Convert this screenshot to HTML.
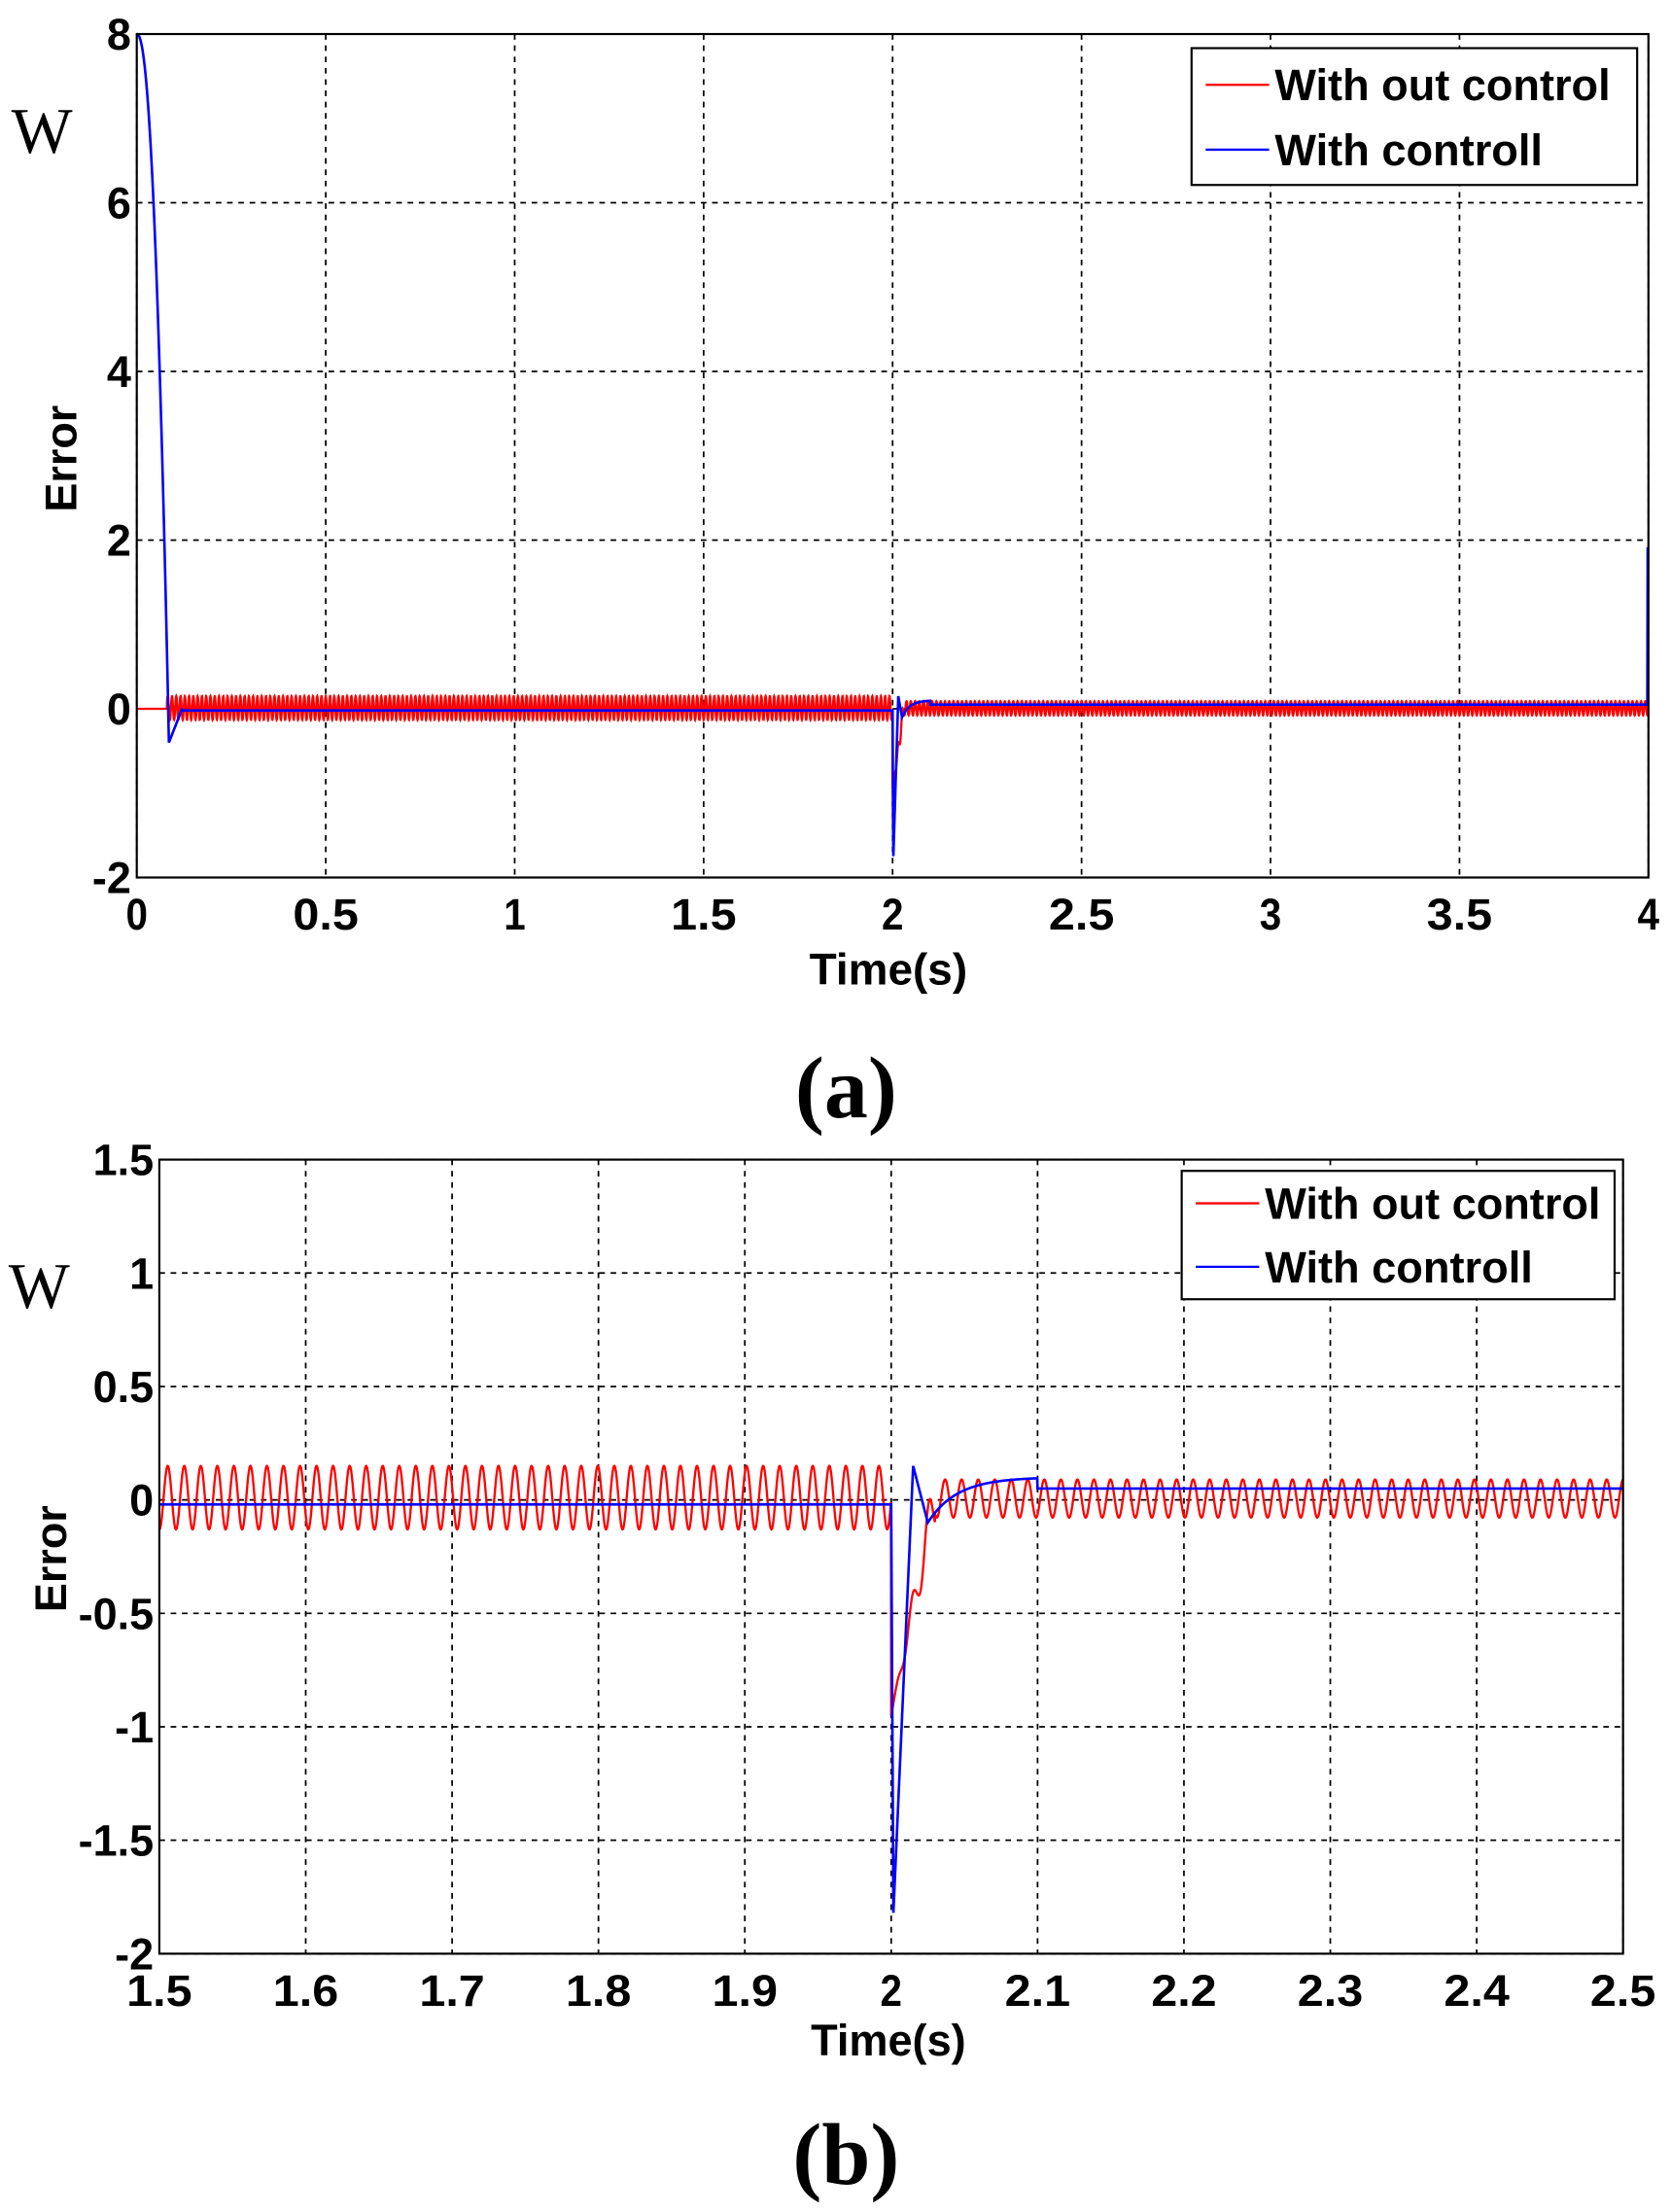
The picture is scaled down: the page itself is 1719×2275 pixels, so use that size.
<!DOCTYPE html>
<html><head><meta charset="utf-8"><style>
html,body{margin:0;padding:0;background:#fff}
svg{display:block}
.t{font-family:"Liberation Sans",sans-serif;font-weight:bold;font-size:31px;fill:#000}
.s{font-family:"Liberation Serif",serif;fill:#000}
</style></head><body>
<svg id="svg" width="1719" height="2275" viewBox="0 0 1185 1568" xmlns="http://www.w3.org/2000/svg">
<g id="g"></g>
<text class="s" x="8" y="108" font-size="46">W</text>
<text class="s" x="6" y="927" font-size="46">W</text>
<text class="t" transform="translate(54,325) rotate(-90)" text-anchor="middle" font-size="32">Error</text>
<text class="t" transform="translate(47,1105) rotate(-90)" text-anchor="middle" font-size="32">Error</text>
<text class="t" x="630" y="698" text-anchor="middle" font-size="32" textLength="112" lengthAdjust="spacingAndGlyphs">Time(s)</text>
<text class="t" x="630" y="1457" text-anchor="middle" font-size="32" textLength="110" lengthAdjust="spacingAndGlyphs">Time(s)</text>
<text class="s" x="600" y="792" text-anchor="middle" font-size="62" font-weight="bold">(a)</text>
<text class="s" x="600" y="1548" text-anchor="middle" font-size="62" font-weight="bold">(b)</text>
</svg>
<script>
var g=document.getElementById('g'),NS='http://www.w3.org/2000/svg';
function el(n,a,txt){var e=document.createElementNS(NS,n);for(var k in a)e.setAttribute(k,a[k]);if(txt!=null)e.textContent=txt;g.appendChild(e);return e;}
function plot(o){
 var X=function(t){return o.L+(t-o.x0)/(o.x1-o.x0)*(o.R-o.L)},Y=function(v){return o.B-(v-o.y0)/(o.y1-o.y0)*(o.B-o.T)};
 o.xt.forEach(function(t){var x=X(t);el('line',{x1:x,y1:o.T,x2:x,y2:o.B,stroke:'#000','stroke-width':1.2,'stroke-dasharray':'4,4'});
  el('text',{'class':'t',x:x,y:o.B+37,'text-anchor':'middle',textLength:o.xl(t).length*15.5,lengthAdjust:'spacingAndGlyphs'},o.xl(t));});
 o.yt.forEach(function(v){var y=Y(v);el('line',{x1:o.L,y1:y,x2:o.R,y2:y,stroke:'#000','stroke-width':1.2,'stroke-dasharray':'4,4'});
  el('text',{'class':'t',x:o.L-4,y:y+11,'text-anchor':'end'},o.yl(v));});
 // red
 var d='',n=o.n;for(var i=0;i<=n;i++){var t=o.x0+(o.x1-o.x0)*i/n;d+=(i?'L':'M')+X(t).toFixed(2)+','+Y(o.red(t)).toFixed(2);}
 el('path',{d:d,fill:'none',stroke:'#f00','stroke-width':1.6});
 d='';n=4000;for(i=0;i<=n;i++){t=o.x0+(o.x1-o.x0)*i/n;d+=(i?'L':'M')+X(t).toFixed(2)+','+Y(o.blue(t)).toFixed(2);}
 el('path',{d:d,fill:'none',stroke:'#00f','stroke-width':1.8});
 el('rect',{x:o.L,y:o.T,width:o.R-o.L,height:o.B-o.T,fill:'none',stroke:'#000','stroke-width':1.5});
 var lg=o.lg;el('rect',{x:lg[0],y:lg[1],width:lg[2],height:lg[3],fill:'#fff',stroke:'#000','stroke-width':1.5});
 el('line',{x1:lg[0]+10,x2:lg[0]+55,y1:lg[4],y2:lg[4],stroke:'#f00','stroke-width':1.6});
 el('line',{x1:lg[0]+10,x2:lg[0]+55,y1:lg[5],y2:lg[5],stroke:'#00f','stroke-width':1.6});
 el('text',{'class':'t',x:lg[0]+59,y:lg[4]+11,textLength:238,lengthAdjust:'spacingAndGlyphs'},'With out control');
 el('text',{'class':'t',x:lg[0]+59,y:lg[5]+11,textLength:190,lengthAdjust:'spacingAndGlyphs'},'With controll');
}
var P=0.0113;
function osc(t){return 0.01+0.14*Math.sin(2*Math.PI*t/P);}
function redf(t){
 if(t<0.08) return 0;
 if(t<2) return osc(t);
 if(t<2.03){var k=(t-2)/0.03;return -0.95*(1-k)+osc(t)*k;}
 return 0.0+0.6*osc(t);
}
function bluef(t){
 if(t<0.085){return 8-8.4*Math.pow(t/0.085,2.2);}
 if(t<0.12){return -0.4+0.4*(t-0.085)/0.035;}
 if(t<2) return -0.02;
 if(t<2.0015) return -0.02-1.8*(t-2)/0.0015;
 if(t<2.015) return -1.82+1.97*(t-2.0015)/0.0135;
 if(t<2.025) return 0.15-0.25*(t-2.015)/0.01;
 if(t<2.1) return 0.1-0.2*Math.exp(-(t-2.025)/0.02);
 if(t>3.997) return 1.9;
 return 0.05;
}
plot({L:97,R:1169,T:24,B:622,x0:0,x1:4,y0:-2,y1:8,n:8000,
 xt:[0,0.5,1,1.5,2,2.5,3,3.5,4],yt:[-2,0,2,4,6,8],
 xl:function(t){return String(t)},yl:function(v){return String(v)},
 red:redf,blue:bluef,lg:[845,34,316,97,60,106]});
plot({L:113,R:1151,T:822,B:1385,x0:1.5,x1:2.5,y0:-2,y1:1.5,n:6000,
 xt:[1.5,1.6,1.7,1.8,1.9,2,2.1,2.2,2.3,2.4,2.5],yt:[-2,-1.5,-1,-0.5,0,0.5,1,1.5],
 xl:function(t){return String(+t.toFixed(1))},yl:function(v){return String(v)},
 red:redf,blue:bluef,lg:[838,830,307,91,853,898]});
</script>
</body></html>
